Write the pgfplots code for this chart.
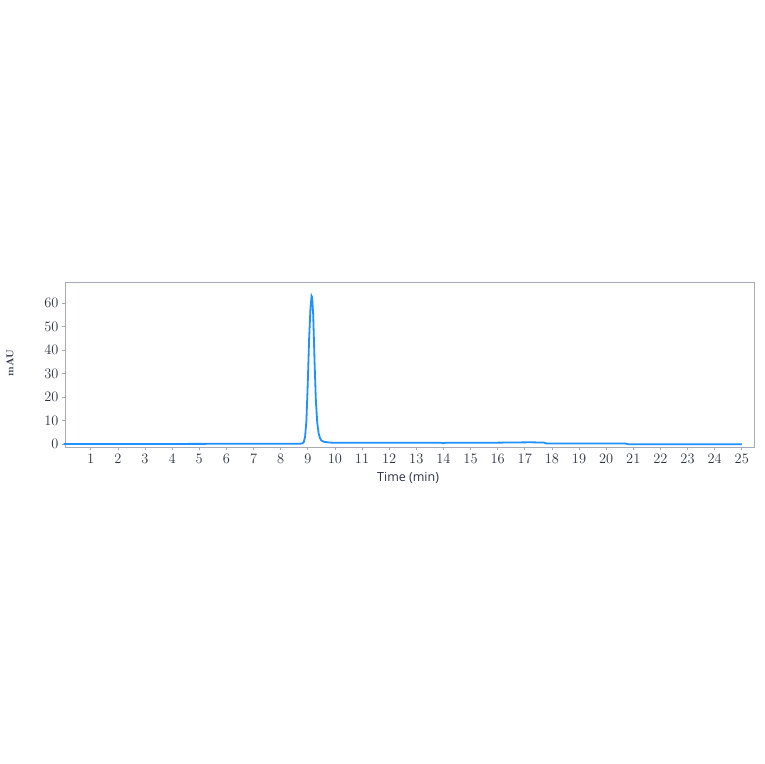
\documentclass[border=0pt]{standalone}
\usepackage{fontspec}
\usepackage{pgfplots}
\pgfplotsset{compat=1.18}
\newfontfamily\labelfont{Open Sans}
\definecolor{trace}{RGB}{30,144,255}
\definecolor{frame}{RGB}{165,172,182}
\definecolor{ticktext}{RGB}{45,50,65}
\begin{document}
\begin{tikzpicture}[x=1pt,y=1pt]
\path[use as bounding box] (0,0) rectangle (764,764);
\begin{axis}[
  at={(65pt,317pt)}, anchor=south west,
  scale only axis, width=689pt, height=165pt,
  xmin=0.05, xmax=25.45, ymin=-1.3, ymax=69,
  xtick={1,2,...,25}, ytick={0,10,...,60},
  xtick pos=bottom, ytick pos=left,
  tick align=outside, major tick length=3pt,
  tick style={frame, line width=0.6pt},
  axis line style={frame, line width=0.8pt},
  ticklabel style={font=\fontsize{13.5}{15}\selectfont, text=ticktext},
  xticklabel style={yshift=-0.5pt},
  xlabel={\labelfont Time (min)},
  xlabel style={at={(axis description cs:0.498,-0.188)}, anchor=center,
    font=\fontsize{12.5}{14}\selectfont, text=ticktext},
  ylabel={\textbf{mAU}},
  ylabel style={at={(axis description cs:-0.080,0.509)}, anchor=center,
    font=\fontsize{10}{12}\selectfont, text=ticktext},
  clip=false,
]
\addplot[trace, line width=1.8pt] coordinates {
(0,0) (2,0) (4,0) (5.5,0.05) (6,0.1) (7,0.1) (8,0.1) (8.7,0.1)
(8.80,0.2) (8.85,0.7) (8.90,3) (8.95,10) (9.00,26) (9.05,45)
(9.10,58) (9.14,63) (9.16,62.5) (9.20,55) (9.25,35) (9.30,18)
(9.35,9) (9.40,4.5) (9.45,2.5) (9.50,1.5) (9.60,0.9) (9.80,0.6)
(10,0.5) (11,0.5) (12,0.5) (13.9,0.55) (14,0.3) (14.1,0.55)
(16,0.55) (17.2,0.7) (17.7,0.6) (17.8,0.2) (19,0.2) (20.7,0.2)
(20.8,-0.1) (25,-0.1)
};
\end{axis}
\end{tikzpicture}
\end{document}
